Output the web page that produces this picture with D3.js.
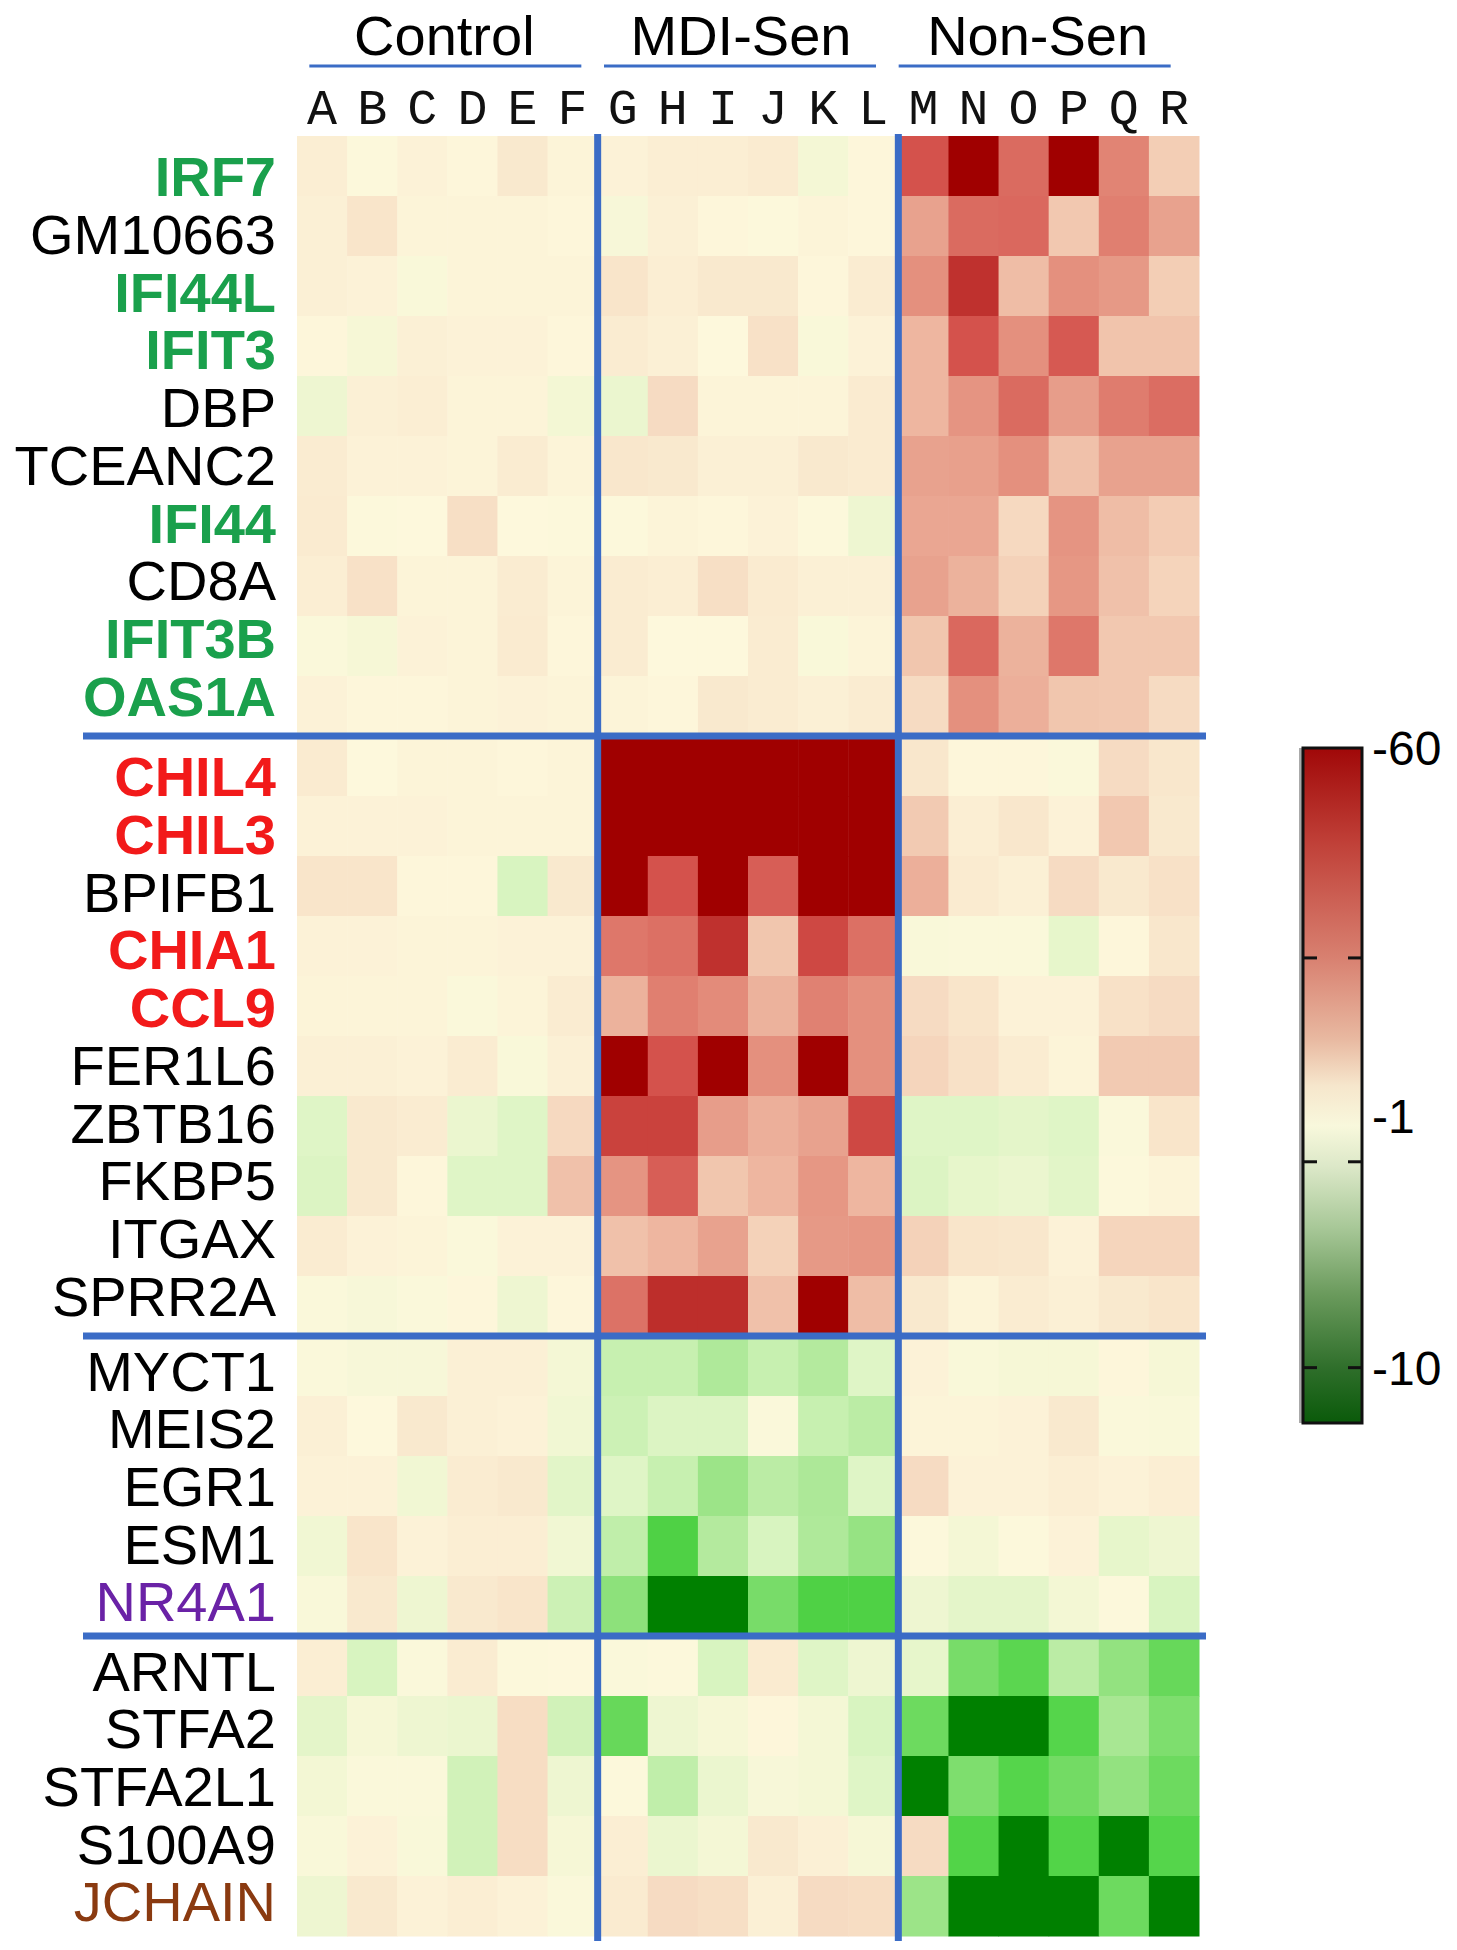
<!DOCTYPE html>
<html>
<head>
<meta charset="utf-8">
<script src="https://cdn.jsdelivr.net/npm/d3@7"></script>
<style>
  body { margin: 0; background: #fff; }
  svg { display: block; }
</style>
</head>
<body>
<svg id="chart" width="1457" height="1950"></svg>
<script>
// ---- data ----
const genes = ["IRF7", "GM10663", "IFI44L", "IFIT3", "DBP", "TCEANC2", "IFI44", "CD8A", "IFIT3B", "OAS1A",
    "CHIL4", "CHIL3", "BPIFB1", "CHIA1", "CCL9", "FER1L6", "ZBTB16", "FKBP5", "ITGAX", "SPRR2A",
    "MYCT1", "MEIS2", "EGR1", "ESM1", "NR4A1",
    "ARNTL", "STFA2", "STFA2L1", "S100A9", "JCHAIN"];
const samples = ["A", "B", "C", "D", "E", "F", "G", "H", "I", "J", "K", "L", "M", "N", "O", "P", "Q", "R"];
const groups = ["Control", "MDI-Sen", "Non-Sen"];
const groupSamples = [["A", "F"], ["G", "L"], ["M", "R"]];
const blockStarts = ["CHIL4", "MYCT1", "ARNTL"];

// gene label categories
const isgGenes = ["IRF7", "IFI44L", "IFIT3", "IFI44", "IFIT3B", "OAS1A"];
const chiGenes = ["CHIL4", "CHIL3", "CHIA1", "CCL9"];
const purpleGenes = ["NR4A1"];
const brownGenes = ["JCHAIN"];

// relative expression score per gene (rows) and sample (cols), -1 = deepest green, 1 = deepest red
const values = [
    [0.05, -0.01, 0.03, 0.01, 0.08, 0.02, 0.03, 0.05, 0.05, 0.07, -0.06, 0.01, 0.75, 1, 0.65, 1, 0.55, 0.22],
    [0.04, 0.1, 0.02, 0.02, 0.02, 0.01, -0.04, 0.04, 0.01, -0.01, 0.02, 0.01, 0.42, 0.65, 0.66, 0.25, 0.57, 0.42],
    [0.04, 0.03, -0.03, 0.02, 0.02, 0.02, 0.1, 0.05, 0.08, 0.08, 0.01, 0.06, 0.5, 0.85, 0.3, 0.5, 0.46, 0.22],
    [0.01, -0.05, 0.04, 0.03, 0.03, 0.01, 0.06, 0.04, 0.0, 0.12, -0.03, 0.03, 0.33, 0.75, 0.5, 0.72, 0.27, 0.27],
    [-0.1, 0.04, 0.05, 0.02, 0.02, -0.07, -0.12, 0.15, 0.02, 0.02, 0.02, 0.07, 0.33, 0.48, 0.65, 0.44, 0.58, 0.64],
    [0.06, 0.03, 0.03, 0.02, 0.06, 0.02, 0.09, 0.08, 0.04, 0.04, 0.08, 0.07, 0.42, 0.43, 0.5, 0.28, 0.42, 0.42],
    [0.07, -0.01, 0.0, 0.13, 0.0, -0.01, -0.01, 0.02, 0.01, 0.03, -0.01, -0.1, 0.4, 0.4, 0.16, 0.48, 0.3, 0.23],
    [0.05, 0.12, 0.02, 0.02, 0.06, 0.02, 0.06, 0.05, 0.13, 0.07, 0.04, 0.04, 0.42, 0.35, 0.2, 0.47, 0.28, 0.19],
    [-0.02, -0.05, 0.03, 0.02, 0.07, 0.01, 0.06, 0.0, 0.0, 0.06, -0.03, 0.02, 0.26, 0.66, 0.35, 0.6, 0.25, 0.25],
    [0.03, 0.01, 0.01, 0.02, 0.03, 0.02, 0.02, 0.01, 0.08, 0.06, 0.04, 0.06, 0.15, 0.5, 0.36, 0.26, 0.25, 0.15],
    [0.07, 0.0, 0.02, 0.02, 0.01, 0.02, 1, 1, 1, 1, 1, 1, 0.09, 0.01, 0.01, -0.02, 0.15, 0.09],
    [0.03, 0.03, 0.03, 0.02, 0.02, 0.02, 1, 1, 1, 1, 1, 1, 0.24, 0.05, 0.09, 0.03, 0.25, 0.08],
    [0.1, 0.1, 0.01, 0.01, -0.25, 0.08, 1, 0.75, 1, 0.7, 1, 1, 0.36, 0.07, 0.04, 0.15, 0.08, 0.12],
    [0.03, 0.03, 0.02, 0.02, 0.03, 0.03, 0.6, 0.63, 0.85, 0.26, 0.78, 0.63, -0.03, -0.02, -0.02, -0.15, 0.01, 0.09],
    [0.02, 0.02, 0.02, -0.02, 0.02, 0.06, 0.35, 0.57, 0.52, 0.35, 0.56, 0.5, 0.15, 0.1, 0.03, 0.03, 0.12, 0.15],
    [0.04, 0.04, 0.03, 0.06, -0.03, 0.04, 1, 0.75, 1, 0.5, 1, 0.5, 0.18, 0.12, 0.06, 0.02, 0.24, 0.24],
    [-0.2, 0.08, 0.06, -0.12, -0.2, 0.16, 0.8, 0.8, 0.44, 0.36, 0.42, 0.78, -0.2, -0.2, -0.17, -0.2, -0.02, 0.1],
    [-0.22, 0.08, 0.01, -0.2, -0.2, 0.28, 0.48, 0.7, 0.26, 0.33, 0.47, 0.33, -0.22, -0.15, -0.12, -0.18, -0.01, 0.02],
    [0.06, 0.03, 0.02, -0.02, 0.03, 0.03, 0.28, 0.33, 0.42, 0.2, 0.46, 0.47, 0.2, 0.1, 0.09, 0.03, 0.18, 0.18],
    [-0.02, -0.04, -0.02, 0.01, -0.1, 0.01, 0.62, 0.86, 0.86, 0.28, 1, 0.3, 0.08, 0.02, 0.06, 0.04, 0.08, 0.1],
    [-0.02, -0.04, -0.04, 0.04, 0.04, -0.06, -0.32, -0.32, -0.42, -0.32, -0.4, -0.2, 0.03, -0.03, -0.05, -0.05, 0.01, -0.05],
    [0.04, 0.0, 0.08, 0.04, 0.03, -0.08, -0.3, -0.22, -0.22, -0.02, -0.32, -0.37, 0.02, 0.02, 0.03, 0.08, -0.02, -0.03],
    [0.03, 0.03, -0.08, 0.06, 0.08, -0.18, -0.2, -0.32, -0.5, -0.37, -0.43, -0.2, 0.15, 0.03, 0.03, 0.05, 0.03, 0.05],
    [-0.08, 0.1, 0.03, 0.05, 0.05, -0.08, -0.35, -0.76, -0.4, -0.25, -0.42, -0.52, -0.01, -0.06, -0.01, 0.03, -0.15, -0.1],
    [-0.03, 0.08, -0.1, 0.08, 0.1, -0.3, -0.55, -1, -1, -0.62, -0.76, -0.76, -0.1, -0.17, -0.17, -0.07, -0.01, -0.25],
    [0.05, -0.25, -0.02, 0.06, -0.01, 0.0, -0.02, -0.01, -0.25, 0.07, -0.2, -0.1, -0.15, -0.62, -0.72, -0.37, -0.53, -0.68],
    [-0.17, -0.05, -0.1, -0.12, 0.14, -0.28, -0.68, -0.1, -0.05, 0.01, -0.06, -0.25, -0.66, -1, -1, -0.74, -0.45, -0.6],
    [-0.07, -0.02, -0.02, -0.28, 0.14, -0.1, -0.01, -0.35, -0.12, -0.04, -0.06, -0.2, -1, -0.6, -0.74, -0.64, -0.53, -0.66],
    [-0.03, 0.03, -0.03, -0.28, 0.14, -0.05, 0.05, -0.12, -0.06, 0.08, 0.04, -0.05, 0.15, -0.75, -1, -0.75, -1, -0.74],
    [-0.1, 0.08, 0.03, 0.05, 0.03, -0.02, 0.07, 0.15, 0.13, 0.04, 0.15, 0.14, -0.5, -1, -1, -1, -0.66, -1]
];

// colour bar: labels and tick marks as fractions down the bar
const legendLabels = ["-60", "-1", "-10"];
const legendLabelPos = [0, 0.545, 0.918];
const legendDashPos = [0.311, 0.613, 0.918];

// ---- layout ----
const svg = d3.select("#chart");
const font = "'Liberation Sans', Arial, sans-serif";
const blue = "#3b6cc6";

const x = d3.scaleBand().domain(samples).range([297, 1199]);
const y = d3.scaleBand().domain(genes).range([136, 1936]);

const color = d3.scaleLinear()
    .domain([-1, -0.75, -0.5, -0.25, 0, 0.25, 0.5, 0.75, 1])
    .range(["#008000", "#52d448", "#9ce488", "#d8f4c0", "#fdf8dc", "#f2c8b0", "#e4907e", "#d4524c", "#a00000"]);

const cells = [];
values.forEach((row, i) => row.forEach((v, j) => cells.push({ gene: genes[i], sample: samples[j], value: v })));

svg.append("g")
    .selectAll("rect")
    .data(cells)
    .enter()
    .append("rect")
    .attr("x", d => x(d.sample))
    .attr("y", d => y(d.gene))
    .attr("width", x.bandwidth() + 0.5)
    .attr("height", y.bandwidth() + 0.5)
    .attr("fill", d => color(d.value));

// separators
svg.append("g")
    .selectAll("line")
    .data(groupSamples.slice(1).map(g => g[0]))
    .enter()
    .append("line")
    .attr("x1", d => x(d))
    .attr("x2", d => x(d))
    .attr("y1", 134)
    .attr("y2", 1941)
    .attr("stroke", blue)
    .attr("stroke-width", 7);

svg.append("g")
    .selectAll("line")
    .data(blockStarts)
    .enter()
    .append("line")
    .attr("x1", 83)
    .attr("x2", 1206)
    .attr("y1", d => y(d))
    .attr("y2", d => y(d))
    .attr("stroke", blue)
    .attr("stroke-width", 7);

// gene labels: spaced a little tighter than rows, centred on each block
const blockOf = g => blockStarts.filter(s => genes.indexOf(s) <= genes.indexOf(g)).length;
const blockMid = genes.map((g, i) => {
    const members = genes.filter(h => blockOf(h) === blockOf(g));
    return (y(members[0]) + y(members[members.length - 1]) + y.bandwidth()) / 2;
});

function labelColor(g) {
    if (isgGenes.includes(g)) return "#1aa04c";
    if (chiGenes.includes(g)) return "#f21a1a";
    if (purpleGenes.includes(g)) return "#6a22a6";
    if (brownGenes.includes(g)) return "#8a3a10";
    return "#000";
}

svg.append("g")
    .selectAll("text")
    .data(genes)
    .enter()
    .append("text")
    .attr("x", 276)
    .attr("y", (g, i) => blockMid[i] + (y(g) + y.bandwidth() / 2 - blockMid[i]) * 0.962 + 20)
    .attr("text-anchor", "end")
    .style("font-family", font)
    .style("font-size", "56px")
    .style("font-weight", g => (isgGenes.includes(g) || chiGenes.includes(g)) ? "bold" : "normal")
    .attr("fill", labelColor)
    .text(g => g);

// sample letters
svg.append("g")
    .selectAll("text")
    .data(samples)
    .enter()
    .append("text")
    .attr("x", d => x(d) + x.bandwidth() / 2)
    .attr("y", 124)
    .attr("text-anchor", "middle")
    .style("font-family", "'Courier New', 'Liberation Mono', monospace")
    .style("font-size", "50px")
    .attr("fill", "#111")
    .text(d => d);

// group titles and underlines
const groupMid = groupSamples.map(g => (x(g[0]) + x(g[1]) + x.bandwidth()) / 2);

svg.append("g")
    .selectAll("text")
    .data(groups)
    .enter()
    .append("text")
    .attr("x", (d, i) => groupMid[i] - 3 - 4 * i)
    .attr("y", 55)
    .attr("text-anchor", "middle")
    .style("font-family", font)
    .style("font-size", "56px")
    .attr("fill", "#000")
    .text(d => d);

svg.append("g")
    .selectAll("line")
    .data(groups)
    .enter()
    .append("line")
    .attr("x1", (d, i) => groupMid[i] - 2 - 6 * i - 136)
    .attr("x2", (d, i) => groupMid[i] - 2 - 6 * i + 136)
    .attr("y1", 66)
    .attr("y2", 66)
    .attr("stroke", blue)
    .attr("stroke-width", 3);

// colour bar
const bar = { x: 1303, y: 748, w: 59, h: 675 };
const barY = d3.scaleLinear().domain([0, 1]).range([bar.y, bar.y + bar.h]);
const barStops = [[0, "#a00808"], [0.14, "#c04038"], [0.31, "#d88070"], [0.43, "#e8b8a0"], [0.5, "#f6e6cc"],
    [0.56, "#f8f8dc"], [0.62, "#dce8c8"], [0.71, "#a8c898"], [0.81, "#6a9a5c"], [0.92, "#2e6e2a"], [1, "#0a5a0a"]];

const grad = svg.append("defs").append("linearGradient")
    .attr("id", "barGrad")
    .attr("x1", 0).attr("x2", 0).attr("y1", 0).attr("y2", 1);
grad.selectAll("stop")
    .data(barStops)
    .enter()
    .append("stop")
    .attr("offset", d => d[0])
    .attr("stop-color", d => d[1]);

svg.append("rect")
    .attr("x", bar.x - 4)
    .attr("y", bar.y)
    .attr("width", 4)
    .attr("height", bar.h)
    .attr("fill", "#aaa");

svg.append("rect")
    .attr("x", bar.x)
    .attr("y", bar.y)
    .attr("width", bar.w)
    .attr("height", bar.h)
    .attr("fill", "url(#barGrad)")
    .attr("stroke", "#111")
    .attr("stroke-width", 3);

const dashes = svg.append("g");
legendDashPos.forEach(p => {
    dashes.append("line")
        .attr("x1", bar.x).attr("x2", bar.x + 14)
        .attr("y1", barY(p)).attr("y2", barY(p))
        .attr("stroke", "#111").attr("stroke-width", 3);
    dashes.append("line")
        .attr("x1", bar.x + bar.w - 14).attr("x2", bar.x + bar.w)
        .attr("y1", barY(p)).attr("y2", barY(p))
        .attr("stroke", "#111").attr("stroke-width", 3);
});

svg.append("g")
    .selectAll("text")
    .data(legendLabels)
    .enter()
    .append("text")
    .attr("x", 1372)
    .attr("y", (d, i) => barY(legendLabelPos[i]) + 17)
    .style("font-family", font)
    .style("font-size", "48px")
    .attr("fill", "#000")
    .text(d => d);
</script>
</body>
</html>
